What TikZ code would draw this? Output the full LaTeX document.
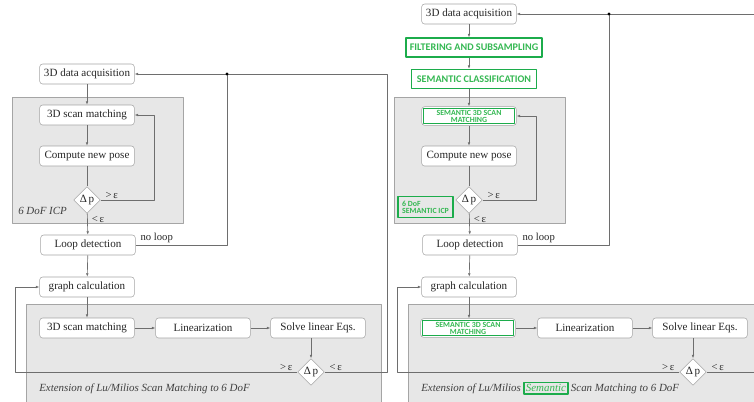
\documentclass[tikz,border=0pt]{standalone}
\usepackage{fontspec}
\setmainfont{Liberation Serif}
\newfontfamily\semfont{Carlito}
\usetikzlibrary{arrows.meta,positioning,shapes.geometric}

\definecolor{semgreen}{RGB}{28,172,75}
\definecolor{semtext}{RGB}{52,184,82}
\definecolor{boxline}{RGB}{165,165,165}
\definecolor{grpfill}{RGB}{231,231,231}
\definecolor{flowline}{RGB}{110,110,110}

\tikzset{
  stepbox/.style={draw=boxline, fill=white, rounded corners=2.2pt, minimum width=71pt,
    minimum height=15pt, inner sep=1pt, text=black!85, font=\fontsize{8.3}{10}\selectfont},
  greenbox/.style={draw=semgreen, line width=1.2pt, fill=white, inner sep=1pt,
    minimum height=14pt, text=semtext, font=\semfont\bfseries\fontsize{7.6}{8}\selectfont},
  tinygreen/.style={text=semtext, font=\semfont\bfseries\fontsize{5.9}{5.2}\selectfont},
  dec/.style={diamond, draw=boxline, fill=white, inner sep=0.5pt, minimum size=20pt,
    text=black!85, font=\fontsize{8.3}{10}\selectfont},
  grp/.style={draw=boxline, fill=grpfill},
  flow/.style={draw=flowline, line width=0.5pt},
  cond/.style={inner sep=0.5pt, text=black!85, font=\fontsize{8}{9}\selectfont},
  grplabel/.style={inner sep=0pt, text=black!75, font=\itshape\fontsize{8.2}{10}\selectfont},
  jdot/.style={circle, fill=black, inner sep=0pt, minimum size=2.4pt},
}

\begin{document}
\begin{tikzpicture}[x=0.75pt, y=-0.75pt, >={Latex[length=2.6pt,width=2pt]}, line join=round]
  \useasboundingbox (0,0) rectangle (754,401);
  \clip (0,0) rectangle (754,401);

  % ================= left: 6 DoF ICP and Lu/Milios =================
  \path[grp] (12,97) rectangle (183,223);
  \path[grp] (26,304) rectangle (381,420);

  \node[stepbox] (acqL) at (87,74) {3D data acquisition};
  \node[stepbox] (scanL) at (87,115) {3D scan matching};
  \node[stepbox] (poseL) at (87,156) {Compute new pose};
  \node[dec] (dpL) at (87,200) {Δ\,p};
  \node[grplabel, anchor=west] (icpL) at (18,211) {6 DoF ICP};
  \node[stepbox] (loopL) at (88,245) {Loop detection};
  \node[stepbox] (graphL) at (87,287) {graph calculation};
  \node[stepbox] (smL) at (87,328) {3D scan matching};
  \node[stepbox] (linL) at (203,328) {Linearization};
  \node[stepbox] (solveL) at (318,328) {Solve linear Eqs.};
  \node[dec] (dpbL) at (311,372) {Δ\,p};
  \node[grplabel, anchor=west] (extL) at (39,389) {Extension of Lu/Milios Scan Matching to 6 DoF};

  \coordinate (nlL) at (227,74);
  \coordinate (rtL) at (387,372);
  \coordinate (fbL) at (15,372);

  \draw[flow,->] (acqL) -- (scanL);
  \draw[flow,->] (scanL) -- (poseL);
  \draw[flow] (poseL) -- (dpL);
  \draw[flow,->] (dpL.east) -- ++(54,0) |- (scanL.east);
  \node[cond, anchor=south west] (gtL) at ([xshift=3pt]dpL.east) {>\,ε};
  \draw[flow,->] (dpL) -- (loopL);
  \node[cond, anchor=north west] (ltL) at ([xshift=3pt,yshift=-1pt]dpL.south) {<\,ε};
  \draw[flow] (loopL.east) -| (nlL);
  \node[cond, anchor=south west] (nolL) at ([xshift=3pt,yshift=1pt]loopL.east) {no loop};
  \draw[flow,->] (dpbL.east) -- (rtL) |- (acqL.east);
  \node[jdot] (jL) at (nlL) {};
  \draw[flow,->] (loopL) -- (graphL);
  \draw[flow,->] (graphL) -- (smL);
  \draw[flow,->] (smL) -- (linL);
  \draw[flow,->] (linL) -- (solveL);
  \draw[flow,->] (solveL.south -| dpbL) -- (dpbL);
  \draw[flow,->] (dpbL.west) -- (fbL) |- (graphL.west);
  \node[cond, anchor=south east] (gtbL) at ([xshift=-3pt]dpbL.west) {>\,ε};
  \node[cond, anchor=south west] (ltbL) at ([xshift=3pt]dpbL.east) {<\,ε};

  % ================= right: semantic variant =================
  \begin{scope}[shift={(382,0)}]
    \path[grp] (12,97) rectangle (183,223);
    \path[grp] (26,304) rectangle (420,420);

    \node[stepbox] (acqR) at (87,14) {3D data acquisition};
    \node[greenbox, minimum width=102pt] (filtR) at (92,47.5) {FILTERING AND SUBSAMPLING};
    \node[greenbox, minimum width=94pt] (classR) at (92,79) {SEMANTIC CLASSIFICATION};
    \node[stepbox, minimum height=14pt] (scanR) at (87,116) {};
    \node[tinygreen, align=center] (scanRt) at (scanR) {SEMANTIC 3D SCAN\\MATCHING};
    \node[stepbox] (poseR) at (87,156) {Compute new pose};
    \node[dec] (dpR) at (87,200) {Δ\,p};
    \node[tinygreen, draw=semgreen, line width=1.2pt, align=left, inner sep=1.5pt,
      minimum width=41pt, minimum height=16pt] (icpR) at (43.5,207) {6 DoF\\SEMANTIC ICP};
    \node[stepbox] (loopR) at (88,245) {Loop detection};
    \node[stepbox] (graphR) at (87,287) {graph calculation};
    \node[stepbox, minimum height=14pt] (smR) at (86,328) {};
    \node[tinygreen, align=center] (smRt) at (smR) {SEMANTIC 3D SCAN\\MATCHING};
    \node[stepbox] (linR) at (203,328) {Linearization};
    \node[stepbox] (solveR) at (318,328) {Solve linear Eqs.};
    \node[dec] (dpbR) at (311,372) {Δ\,p};
    \node[grplabel, anchor=west] (extR) at (39,389) {Extension of Lu/Milios};
    \node[grplabel, base right=1.5pt of extR, draw=semgreen, line width=1.1pt,
      text=semtext, inner sep=1.5pt] (extRs) {Semantic};
    \node[grplabel, base right=1.5pt of extRs] (extRe) {Scan Matching to 6 DoF};

    \foreach \n in {scanR,smR}
      \draw[semgreen, line width=1.2pt] ([shift={(1.6pt,-1.6pt)}]\n.north west)
        rectangle ([shift={(-1.6pt,1.6pt)}]\n.south east);

    \coordinate (nlR) at (227,14);
    \coordinate (rtR) at (420,372);
    \coordinate (fbR) at (15,372);

    \draw[flow,->] (acqR.south) -- (acqR.south |- filtR.north);
    \draw[flow,->] (acqR.south |- filtR.south) -- (acqR.south |- classR.north);
    \draw[flow,->] (acqR.south |- classR.south) -- (scanR.north);
    \draw[flow,->] (scanR) -- (poseR);
    \draw[flow] (poseR) -- (dpR);
    \draw[flow,->] (dpR.east) -- ++(54,0) |- (scanR.east);
    \node[cond, anchor=south west] (gtR) at ([xshift=3pt]dpR.east) {>\,ε};
    \draw[flow,->] (dpR) -- (loopR);
    \node[cond, anchor=north west] (ltR) at ([xshift=3pt,yshift=-1pt]dpR.south) {<\,ε};
    \draw[flow] (loopR.east) -| (nlR);
    \node[cond, anchor=south west] (nolR) at ([xshift=3pt,yshift=1pt]loopR.east) {no loop};
    \draw[flow,->] (dpbR.east) -- (rtR) |- (acqR.east);
    \node[jdot] (jR) at (nlR) {};
    \draw[flow,->] (loopR) -- (graphR);
    \draw[flow,->] (graphR) -- (smR.north -| graphR);
    \draw[flow,->] (smR) -- (linR);
    \draw[flow,->] (linR) -- (solveR);
    \draw[flow,->] (solveR.south -| dpbR) -- (dpbR);
    \draw[flow,->] (dpbR.west) -- (fbR) |- (graphR.west);
    \node[cond, anchor=south east] (gtbR) at ([xshift=-3pt]dpbR.west) {>\,ε};
    \node[cond, anchor=south west] (ltbR) at ([xshift=3pt]dpbR.east) {<\,ε};
  \end{scope}

\end{tikzpicture}
\end{document}
